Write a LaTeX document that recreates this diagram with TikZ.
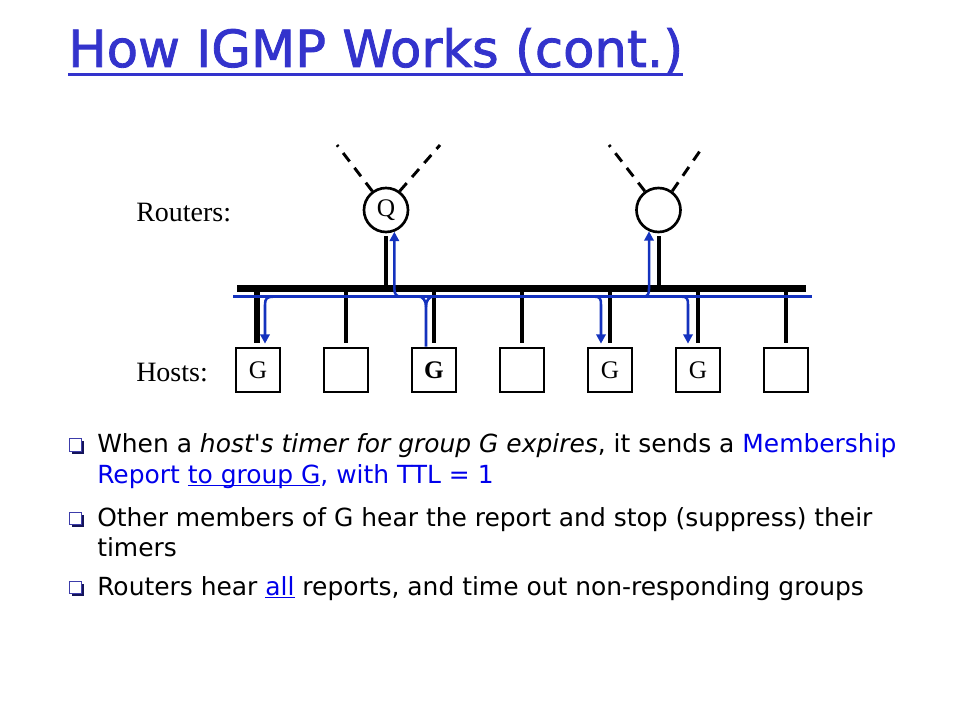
\documentclass[tikz,border=0pt]{standalone}
\usepackage{fontspec}
\setmainfont{Liberation Serif}
\newfontfamily\comic{DejaVu Sans}
\newfontfamily\comicb[FakeBold=1.6]{DejaVu Sans}
\newcommand\ulx[1]{\setbox0\hbox{#1}\rlap{\rule[-2.6pt]{\wd0}{1.1pt}}\box0}
\usetikzlibrary{arrows.meta,calc,shadows}
\definecolor{titleblue}{RGB}{51,51,204}
\definecolor{textblue}{RGB}{0,0,235}
\definecolor{netblue}{RGB}{20,50,190}
\definecolor{bulblue}{RGB}{60,60,170}
\definecolor{bulshadow}{RGB}{20,20,90}
\begin{document}
\begin{tikzpicture}[x=0.75pt,y=-0.75pt,
  router/.style={circle,draw,line width=2pt,minimum size=33pt,inner sep=0pt,font=\fontsize{19}{19}\selectfont},
  hostbox/.style={rectangle,draw,line width=2pt,minimum size=33pt,inner sep=0pt,font=\fontsize{19}{19}\selectfont},
  lbl/.style={anchor=base west,inner sep=0pt,font=\fontsize{21}{21}\selectfont},
  barline/.style={line width=5.25pt},
  drop/.style={line width=3pt},
  thickdrop/.style={line width=4.5pt},
  stem/.style={line width=3pt},
  uplink/.style={line width=2.2pt,dash pattern=on 8pt off 6pt},
  lan/.style={netblue,line width=1.9pt},
  rep/.style={netblue,line width=1.9pt},
  repar/.style={rep,-{Triangle[length=7pt,width=7pt]}},
  txt/.style={anchor=base west,inner sep=0pt,font=\comic\fontsize{18.7}{18.7}\selectfont},
  bul/.style={rectangle,draw=bulblue,line width=0.8pt,fill=white,minimum size=9.5pt,inner sep=0pt,
    drop shadow={shadow xshift=1.8pt,shadow yshift=-1.8pt,fill=bulshadow,opacity=1}}
]
\useasboundingbox (0,0) rectangle (960,720);

% title
\node[anchor=base west,inner sep=0pt,text=titleblue,font=\comicb\fontsize{38.4}{38.4}\selectfont] (title) at (68,67) {How IGMP Works (cont.)};
\draw[titleblue,line width=2.8pt] ($(title.base west)+(0,7.5)$) -- ($(title.base east)+(0,7.5)$);

% labels
\node[lbl] (rlab) at (136,222) {Routers:};
\node[lbl] (hlab) at (136,381) {Hosts:};

% routers
\node[router] (q) at (386,210) {Q};
\node[router] (r2) at (658.5,210) {};
\coordinate (qa) at (337,145);
\coordinate (qb) at (440,145);
\coordinate (ra) at (609,145);
\coordinate (rb) at (702,148);
\draw[uplink] (q.126) -- (qa);
\draw[uplink] (q.54) -- (qb);
\draw[uplink] (r2.126) -- (ra);
\draw[uplink] (r2.54) -- (rb);

% bus
\coordinate (barL) at (237,288.5);
\coordinate (barR) at (806,288.5);
\coordinate (lanL) at (233,296.7);
\coordinate (lanR) at (812,296.7);
\draw[barline] (barL) -- (barR);
\draw[stem] ($(q.south)+(0,3)$) -- (q.south |- barL);
\draw[stem] ($(r2.south)+(0,3)$) -- (r2.south |- barL);

% hosts
\node[hostbox] (h1) at (258,370) {G};
\node[hostbox] (h2) at (346,370) {};
\node[hostbox] (h3) at (434,370) {\bfseries G};
\node[hostbox] (h4) at (522,370) {};
\node[hostbox] (h5) at (610,370) {G};
\node[hostbox] (h6) at (698,370) {G};
\node[hostbox] (h7) at (786,370) {};
\draw[thickdrop] ($(h1.north)+(-1.5,-4)$) -- ($(h1.north |- barL)+(-1.5,0)$);
\foreach \h in {h2,h3,h4,h5,h6,h7}
  \draw[drop] ($(\h.north)+(0,-4)$) -- (\h.north |- barL);

% LAN line
\draw[lan] (lanL) -- (lanR);

% report paths
\coordinate (a1) at ($(h1.north |- lanL)+(15,0)$);
\draw[repar] (a1) .. controls +(-6,0) and +(0,-6) .. ++(-8,8) -- ($(h1.north)+(7,-3)$);

\coordinate (b3) at ($(h3.north)+(-8,-40)$);
\draw[rep] ($(h3.north)+(-8,0)$) -- (b3) .. controls +(0,-6) and +(5,0) .. ++(-8,-10.3);
\draw[rep] (b3) .. controls +(0,-6) and +(-5,0) .. ++(8,-10.3);

\coordinate (qj) at ($(q.south |- lanL)+(15,0)$);
\draw[repar] (qj) .. controls +(-5,0) and +(0,5) .. ($(q.-69 |- lanL)+(0,-8)$) -- (q.-69);

\coordinate (rj) at ($(r2.south |- lanL)+(-15.5,0)$);
\draw[repar] (rj) .. controls +(5,0) and +(0,5) .. ($(r2.-114 |- lanL)+(0,-8)$) -- (r2.-114);

\coordinate (a5) at ($(h5.north |- lanL)+(-15,0)$);
\draw[repar] (a5) .. controls +(5,0) and +(0,-6) .. ++(6,8) -- ($(h5.north)+(-9,-3)$);

\coordinate (a6) at ($(h6.north |- lanL)+(-16,0)$);
\draw[repar] (a6) .. controls +(5,0) and +(0,-6) .. ++(6,8) -- ($(h6.north)+(-10,-3)$);

% bullets and text
\node[bul] (bu1) at (75.5,445) {};
\node[bul] (bu2) at (75.5,518.5) {};
\node[bul] (bu3) at (75.5,587.5) {};
\node[txt] (t1) at (97,452) {When a \textit{host's timer for group G expires}, it sends a \textcolor{textblue}{Membership}};
\node[txt,text=textblue] (t2) at (97,483) {Report \ulx{to group G}, with TTL = 1};
\node[txt] (t3) at (97,526.5) {Other members of G hear the report and stop (suppress) their};
\node[txt] (t4) at (97,556.5) {timers};
\node[txt] (t5) at (97,595) {Routers hear \textcolor{textblue}{\ulx{all}} reports, and time out non-responding groups};
\end{tikzpicture}
\end{document}
